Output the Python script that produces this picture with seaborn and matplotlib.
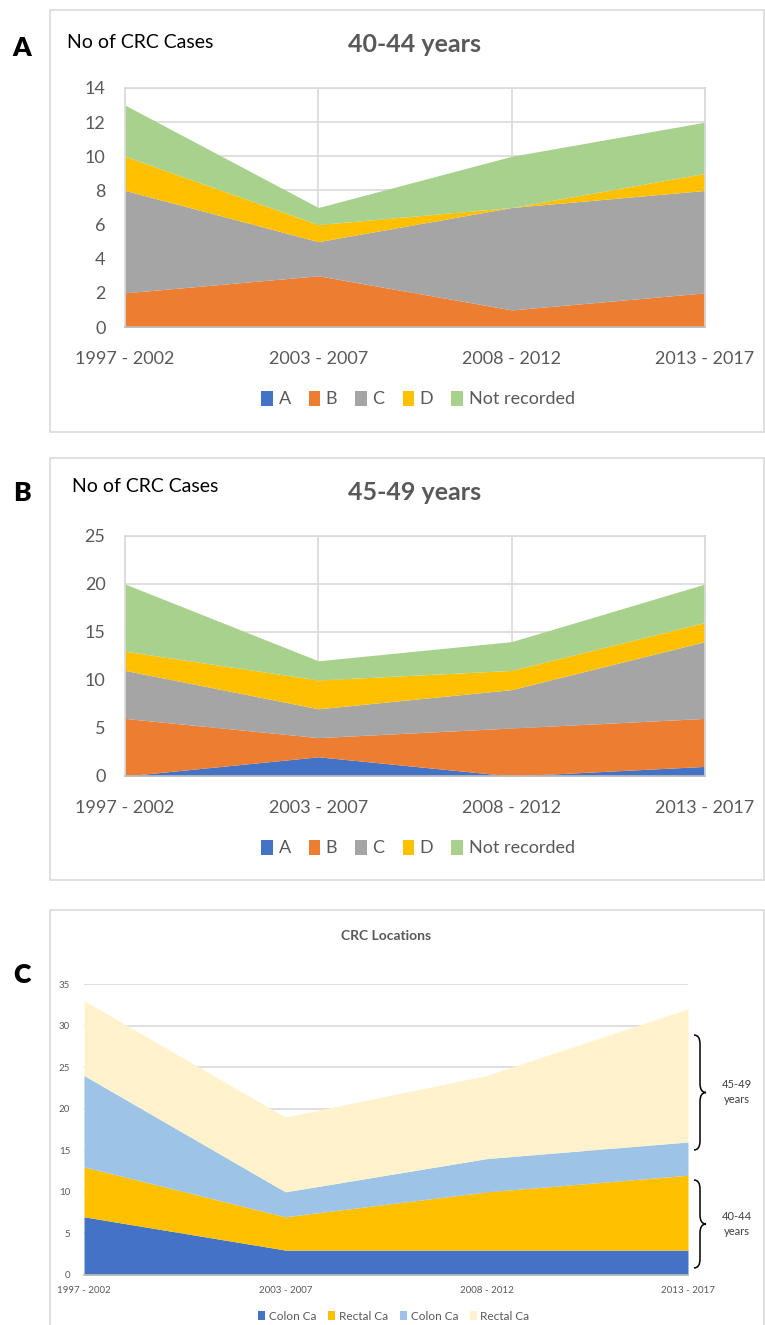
import matplotlib
matplotlib.use("Agg")
import matplotlib.pyplot as plt
import seaborn as sns
import numpy as np
from matplotlib.patches import Rectangle, PathPatch
from matplotlib.path import Path

# ---------------- data ----------------
periods = ["1997 - 2002", "2003 - 2007", "2008 - 2012", "2013 - 2017"]
stages = ["A", "B", "C", "D", "Not recorded"]

# Panel A: 40-44 years
a40_A = [0, 0, 0, 0]
a40_B = [2, 3, 1, 2]
a40_C = [6, 2, 6, 6]
a40_D = [2, 1, 0, 1]
a40_NR = [3, 1, 3, 3]

# Panel B: 45-49 years
b45_A = [0, 2, 0, 1]
b45_B = [6, 2, 5, 5]
b45_C = [5, 3, 4, 8]
b45_D = [2, 3, 2, 2]
b45_NR = [7, 2, 3, 4]

# Panel C: locations
loc_labels = ["Colon Ca", "Rectal Ca", "Colon Ca", "Rectal Ca"]
colon_40 = [7, 3, 3, 3]
rectal_40 = [6, 4, 7, 9]
colon_45 = [11, 3, 4, 4]
rectal_45 = [9, 9, 10, 16]

stage_colors = ["#4472C4", "#ED7D31", "#A5A5A5", "#FFC000", "#A9D18E"]
loc_colors = ["#4472C4", "#FFC000", "#9DC3E6", "#FFF2CC"]

# ---------------- style ----------------
sns.set_theme(style="white")
plt.rcParams["font.family"] = ["Lato", "DejaVu Sans"]

W, H = 765, 1325
fig = plt.figure(figsize=(W / 100, H / 100), dpi=100)
fig.patch.set_facecolor("white")

def fx(x):
    return x / W

def fy(y):
    return 1 - y / H

def ax_rect(l, t, r, b):
    return [fx(l), fy(b), fx(r) - fx(l), fy(t) - fy(b)]

def panel_box(l, t, r, b):
    fig.patches.append(Rectangle((fx(l), fy(b)), fx(r) - fx(l), fy(t) - fy(b),
                                 transform=fig.transFigure, fill=False,
                                 edgecolor="#D9D9D9", linewidth=1.2, zorder=0))

TXT = "#595959"
x = np.arange(len(periods))

def stage_panel(top, bottom, series, ymax, ystep, title, box):
    panel_box(*box)
    ax = fig.add_axes(ax_rect(125, top, 705, bottom))
    ax.stackplot(x, *series, colors=stage_colors, labels=stages, linewidth=0, zorder=2)
    ax.set_xlim(0, 3)
    ax.set_ylim(0, ymax)
    ax.set_yticks(np.arange(0, ymax + 0.1, ystep))
    ax.set_xticks(x)
    ax.set_xticklabels(periods)
    ax.grid(True, color="#D9D9D9", linewidth=1.2, zorder=1)
    ax.set_axisbelow(True)
    for s in ["top", "right", "left"]:
        ax.spines[s].set_color("#D9D9D9")
        ax.spines[s].set_linewidth(1.2)
    ax.spines["bottom"].set_color("#BFBFBF")
    ax.spines["bottom"].set_linewidth(1.2)
    ax.spines["bottom"].set_zorder(3)
    ax.tick_params(axis="both", length=0, labelsize=13, colors=TXT)
    ax.tick_params(axis="x", pad=17)
    ax.tick_params(axis="y", pad=14)
    ax.legend(loc="center", bbox_to_anchor=(fx(418), fy(bottom + 72)),
              bbox_transform=fig.transFigure, ncol=5, frameon=False,
              fontsize=13, handlelength=0.65, handleheight=0.9,
              handletextpad=0.3, columnspacing=1.0, labelcolor=TXT)
    fig.text(fx(415), fy(top - 43), title, ha="center", va="center",
             fontsize=18, fontweight="bold", color=TXT)
    return ax

# Panel A
stage_panel(88, 327, [a40_A, a40_B, a40_C, a40_D, a40_NR], 14, 2,
            "40-44 years", (50, 10, 764, 432))
fig.text(fx(67), fy(42), "No of CRC Cases", ha="left", va="center", fontsize=14, color="black")
fig.text(fx(22), fy(48), "A", ha="center", va="center", fontsize=19, fontweight="heavy", color="black")

# Panel B
stage_panel(536, 776, [b45_A, b45_B, b45_C, b45_D, b45_NR], 25, 5,
            "45-49 years", (50, 458, 764, 880))
fig.text(fx(72), fy(487), "No of CRC Cases", ha="left", va="center", fontsize=14, color="black")
fig.text(fx(22), fy(493), "B", ha="center", va="center", fontsize=19, fontweight="heavy", color="black")

# Panel C
panel_box(50, 910, 764, 1330)
axc = fig.add_axes(ax_rect(84, 984, 688, 1275))
axc.stackplot(x, colon_40, rectal_40, colon_45, rectal_45, colors=loc_colors,
              labels=loc_labels, linewidth=0, zorder=2)
axc.set_xlim(0, 3)
axc.set_ylim(0, 35)
axc.set_yticks(np.arange(0, 36, 5))
axc.set_xticks(x)
axc.set_xticklabels(periods)
axc.grid(True, axis="y", color="#D9D9D9", linewidth=1.2, zorder=1)
axc.grid(False, axis="x")
axc.set_axisbelow(True)
for s in ["top", "right", "left"]:
    axc.spines[s].set_visible(False)
axc.spines["bottom"].set_color("#BFBFBF")
axc.spines["bottom"].set_zorder(3)
axc.tick_params(axis="both", length=0, labelsize=7, colors=TXT)
axc.tick_params(axis="x", pad=8)
axc.tick_params(axis="y", pad=10)
axc.legend(loc="center", bbox_to_anchor=(fx(394), fy(1316)),
           bbox_transform=fig.transFigure, ncol=4, frameon=False,
           fontsize=8.5, handlelength=0.6, handleheight=0.8,
           handletextpad=0.3, columnspacing=1.0, labelcolor=TXT)
fig.text(fx(386), fy(936), "CRC Locations", ha="center", va="center",
         fontsize=10, fontweight="bold", color=TXT)
fig.text(fx(22), fy(975), "C", ha="center", va="center", fontsize=19, fontweight="heavy", color="black")

def brace(xl, yt, yb, w=12, r=9):
    ym = (yt + yb) / 2
    xm = xl + w / 2
    pts = [(xl, yt), (xm, yt), (xm, yt + r), (xm, ym - r), (xm, ym), (xl + w, ym),
           (xm, ym), (xm, ym + r), (xm, yb - r), (xm, yb), (xl, yb)]
    codes = [Path.MOVETO, Path.CURVE3, Path.CURVE3, Path.LINETO, Path.CURVE3, Path.CURVE3,
             Path.CURVE3, Path.CURVE3, Path.LINETO, Path.CURVE3, Path.CURVE3]
    verts = [(fx(px), fy(py)) for px, py in pts]
    fig.patches.append(PathPatch(Path(verts, codes), transform=fig.transFigure,
                                 fill=False, edgecolor="black", linewidth=1.1))

brace(694, 1035, 1150)
brace(694, 1180, 1268)
fig.text(fx(737), fy(1092), "45-49\nyears", ha="center", va="center", fontsize=8,
         color="#404040", linespacing=1.5)
fig.text(fx(737), fy(1224), "40-44\nyears", ha="center", va="center", fontsize=8,
         color="#404040", linespacing=1.5)

fig.savefig("out.png", dpi=100, facecolor="white")
